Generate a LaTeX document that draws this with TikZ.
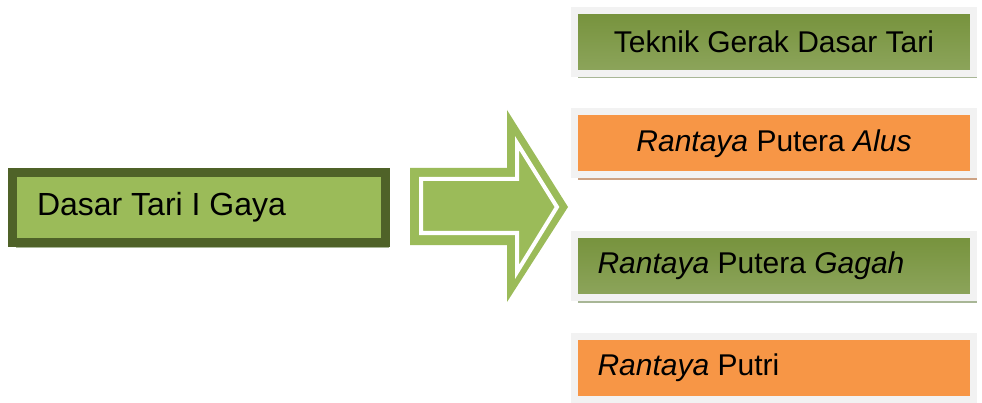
\documentclass[tikz,border=0pt]{standalone}
\usepackage{fontspec}
\setmainfont{Liberation Sans}
\usetikzlibrary{shadows}
\definecolor{olive}{HTML}{9BBB59}
\definecolor{darkolive}{HTML}{4F6228}
\definecolor{greentop}{HTML}{76923C}
\definecolor{greenbot}{HTML}{8DA55C}
\definecolor{orange}{HTML}{F79646}
\definecolor{frame}{HTML}{F2F2F2}
\definecolor{greenshadow}{HTML}{A8B696}
\definecolor{orangeshadow}{HTML}{CDA283}
\begin{document}
\begin{tikzpicture}[x=1pt,y=1pt,
    font=\fontsize{30}{36}\selectfont,
    box/.style={rectangle, draw=frame, line width=7pt,
      minimum width=399pt, minimum height=63pt, inner sep=0pt},
    greenbox/.style={box, top color=greentop, bottom color=greenbot,
      drop shadow={shadow xshift=3pt, shadow yshift=-5pt,
        fill=greenshadow, opacity=1}},
    orangebox/.style={box, fill=orange,
      drop shadow={shadow xshift=3pt, shadow yshift=-5pt,
        fill=orangeshadow, opacity=1}},
    lefttext/.style={text width=353pt, align=flush left}]
  \useasboundingbox (0,0) rectangle (982,402);
  % left box
  \node[rectangle, draw=darkolive, fill=olive, line width=9pt,
    minimum width=373pt, minimum height=70pt, text width=324pt,
    align=flush left, inner sep=0pt, font=\fontsize{32}{38}\selectfont,
    drop shadow={shadow xshift=3pt, shadow yshift=-5pt,
      fill=greenshadow, opacity=1}]
    (dasar) at (199,194.5) {Dasar Tari I Gaya};
  % big arrow
  \fill[olive] (410,234) -- (507,234) -- (507,292) -- (568,195)
    -- (507,100) -- (507,157) -- (410,157) -- cycle;
  \draw[white, line width=4pt, line join=miter] (421,223) -- (517,223)
    -- (517,259) -- (557,195) -- (517,130) -- (517,169) -- (421,169) -- cycle;
  % right boxes
  \node[greenbox] (teknik) at (774,360) {Teknik Gerak Dasar Tari};
  \node[orangebox] (alus) at (774,258.5) {\textit{Rantaya} Putera \textit{Alus}};
  \node[greenbox, lefttext] (gagah) at (774,136) {\textit{Rantaya} Putera \textit{Gagah}};
  \node[orangebox, lefttext] (putri) at (774,34) {\textit{Rantaya} Putri};
\end{tikzpicture}
\end{document}
